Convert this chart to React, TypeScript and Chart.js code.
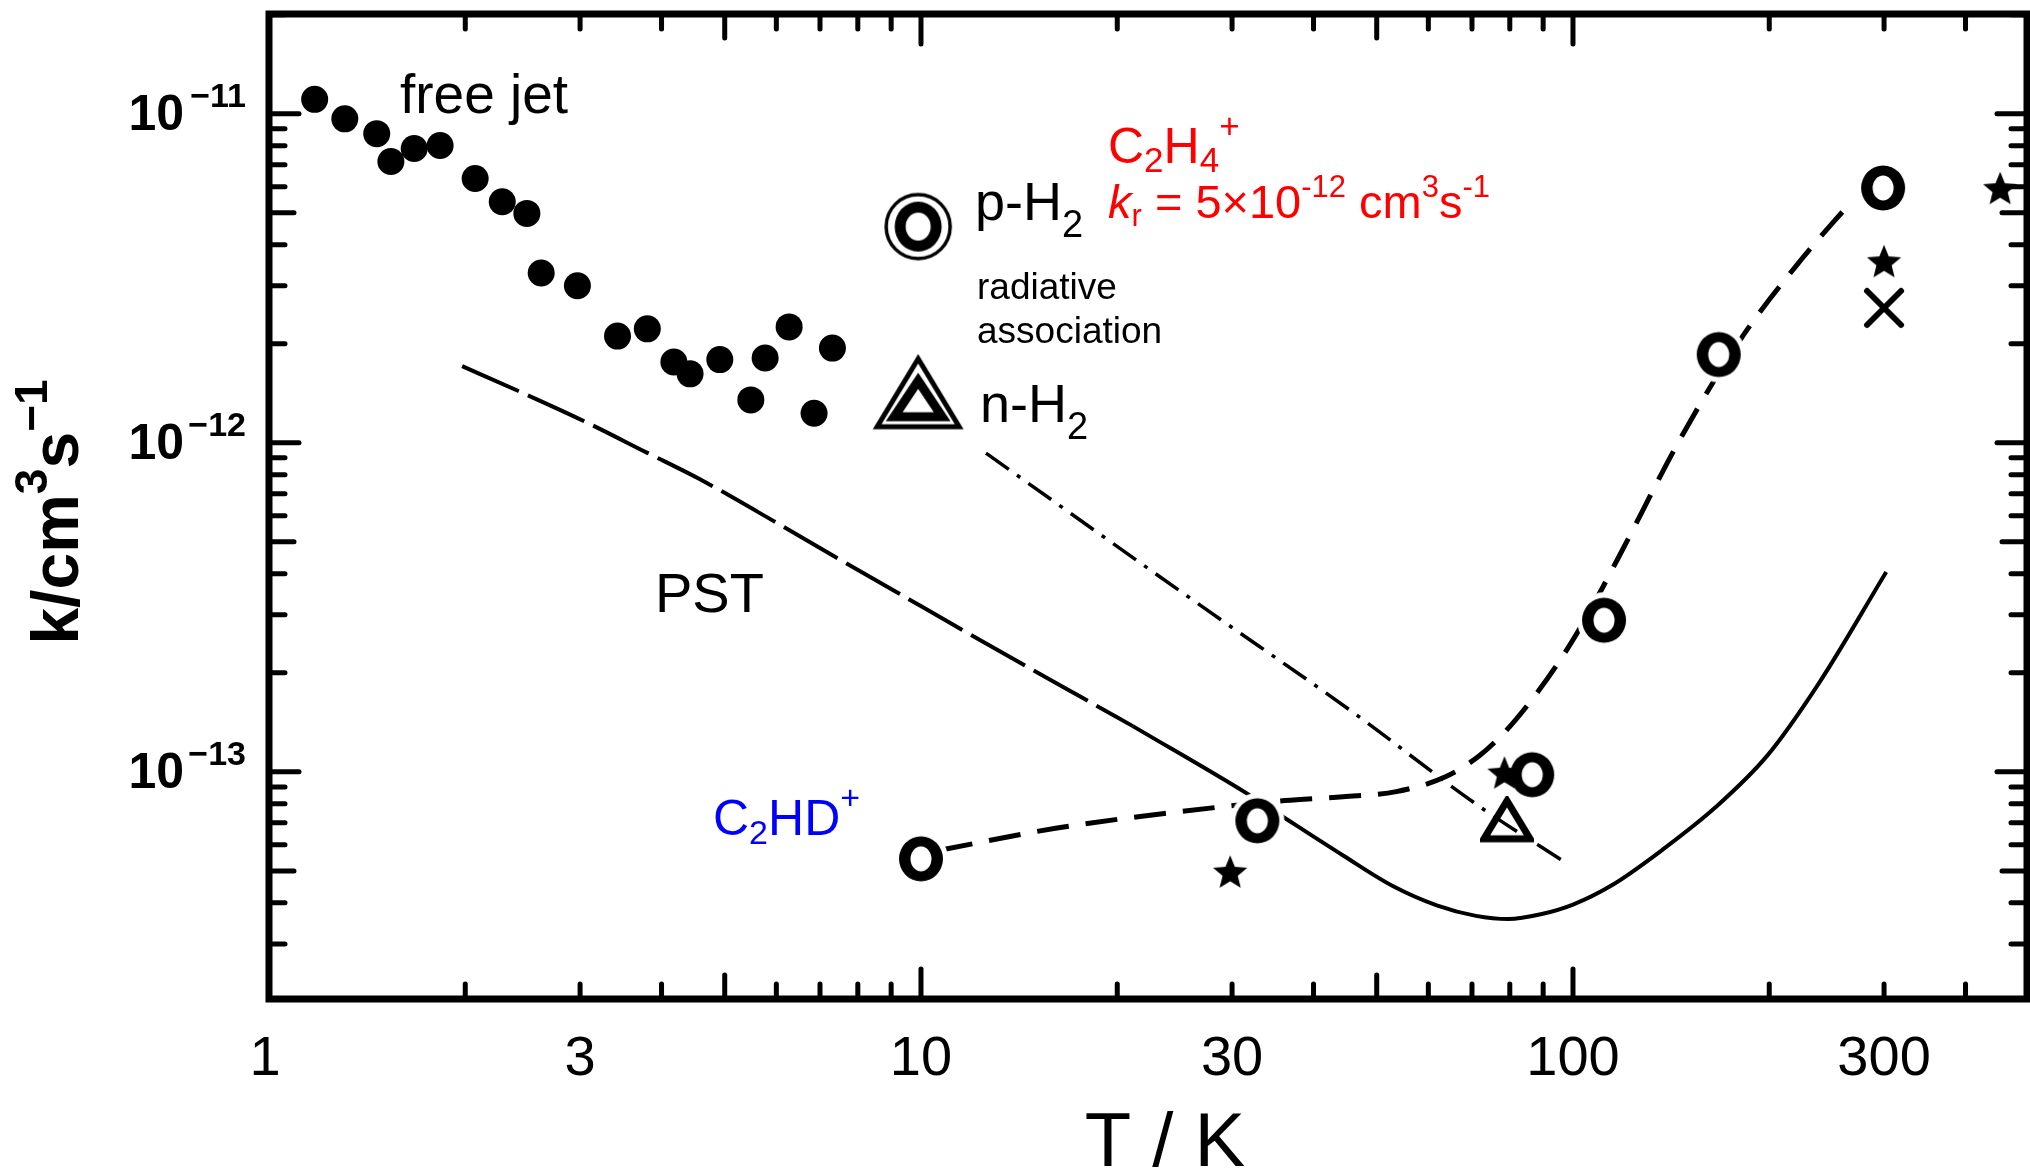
import React, { useEffect, useRef } from 'react';
import { Chart, registerables } from 'chart.js';

Chart.register(...registerables);

// ---------------- data ----------------
// free jet measurements (filled circles)
const freeJetT = [1.175, 1.307, 1.463, 1.538, 1.670, 1.830, 2.071, 2.279, 2.486, 2.615, 2.972, 3.424, 3.804, 4.178, 4.424, 4.914, 5.483, 5.767, 6.277, 6.855, 7.314];
const freeJetK = [1.106e-11, 9.65e-12, 8.70e-12, 7.16e-12, 7.84e-12, 8.01e-12, 6.36e-12, 5.40e-12, 4.98e-12, 3.28e-12, 3.0e-12, 2.11e-12, 2.22e-12, 1.76e-12, 1.62e-12, 1.79e-12, 1.35e-12, 1.81e-12, 2.25e-12, 1.23e-12, 1.94e-12];

// C2HD+ measurements (open bold circles, p-H2)
const openT = [10, 32.8, 86.6, 111.6, 167.3, 299];
const openK = [5.44e-14, 7.10e-14, 9.80e-14, 2.89e-13, 1.855e-12, 5.95e-12];

// stars
const starT = [29.8, 78.5, 300, 452];
const starK = [4.97e-14, 9.94e-14, 3.56e-12, 5.94e-12];

// cross
const crossT = [300];
const crossK = [2.57e-12];

// n-H2 triangle
const triT = [79.2];
const triK = [7.15e-14];

// PST curve, long dashed part
const pstT = [1.978, 2.408, 3.027, 3.804, 4.567, 6.010, 7.552, 9.624, 11.61, 14.59, 17.52, 21.13];
const pstK = [1.710e-12, 1.439e-12, 1.169e-12, 9.32e-13, 7.77e-13, 5.71e-13, 4.39e-13, 3.33e-13, 2.69e-13, 2.08e-13, 1.696e-13, 1.377e-13];

// solid curve
const solidT = [21.13, 31.6, 35.6, 44.4, 53.0, 61.8, 70.98, 79.57, 89.22, 100.0, 114.7, 137.7, 165.4, 198.6, 238.4, 302.3];
const solidK = [1.377e-13, 8.60e-14, 7.38e-14, 5.57e-14, 4.49e-14, 3.93e-14, 3.65e-14, 3.57e-14, 3.69e-14, 3.95e-14, 4.52e-14, 5.83e-14, 7.80e-14, 1.12e-13, 1.861e-13, 4.05e-13];

// dash-dot curve (radiative association, n-H2)
const dashDotT = [12.58, 26.8, 45.5, 72.0, 98.6];
const dashDotK = [9.30e-13, 3.21e-13, 1.54e-13, 7.83e-14, 5.22e-14];

// dashed curve through C2HD+ points
const fitT = [10.73, 16.17, 23.62, 36.15, 44.4, 53.6, 63.74, 72.0, 78.98, 86.56, 94.89, 104.1, 117.7, 145.8, 180.6, 223.8, 268.9];
const fitK = [5.79e-14, 6.75e-14, 7.47e-14, 8.18e-14, 8.40e-14, 8.71e-14, 9.66e-14, 1.123e-13, 1.335e-13, 1.661e-13, 2.14e-13, 2.88e-13, 4.52e-13, 1.021e-12, 2.06e-12, 3.60e-12, 5.48e-12];

// key symbols (p-H2 double circle, n-H2 double triangle)
const keyT = [9.9, 9.9];
const keyK = [4.54e-12, 1.42e-12];

// axes
const xMin = 1;
const xMax = 497;
const yMin = 2.04e-14;
const yMax = 2.01e-11;
const xTickValues = [1, 3, 10, 30, 100, 300];
const xTickLabels = ['1', '3', '10', '30', '100', '300'];
const yTickValues = [1e-11, 1e-12, 1e-13];
const yTickExponents = ['\u221211', '\u221212', '\u221213'];

// ---------------- helpers ----------------
const FONT = '"Liberation Sans", Arial, Helvetica, sans-serif';

type Seg = { t: string; size: number; dy?: number; weight?: string; style?: string };

function fontOf(s: Seg) {
  return `${s.style || 'normal'} ${s.weight || 'normal'} ${s.size}px ${FONT}`;
}

function richWidth(ctx: CanvasRenderingContext2D, segs: Seg[]) {
  let w = 0;
  for (const s of segs) {
    ctx.font = fontOf(s);
    w += ctx.measureText(s.t).width;
  }
  return w;
}

function drawRich(ctx: CanvasRenderingContext2D, x: number, y: number, segs: Seg[], color: string, align: 'left' | 'center' | 'right' = 'left') {
  const w = richWidth(ctx, segs);
  let cx = align === 'left' ? x : align === 'right' ? x - w : x - w / 2;
  ctx.fillStyle = color;
  ctx.textAlign = 'left';
  ctx.textBaseline = 'alphabetic';
  for (const s of segs) {
    ctx.font = fontOf(s);
    ctx.fillText(s.t, cx, y + (s.dy || 0));
    cx += ctx.measureText(s.t).width;
  }
}

function makeCanvas(w: number, h: number) {
  const c = document.createElement('canvas');
  c.width = w;
  c.height = h;
  return c;
}

function makeBoldO() {
  const c = makeCanvas(62, 64);
  const g = c.getContext('2d')!;
  g.fillStyle = '#fff';
  g.beginPath();
  g.ellipse(31, 32, 27, 28, 0, 0, Math.PI * 2);
  g.fill();
  g.fillStyle = '#000';
  g.beginPath();
  g.ellipse(31, 32, 22, 22.5, 0, 0, Math.PI * 2);
  g.ellipse(31, 32, 10.5, 12.5, 0, 0, Math.PI * 2);
  g.fill('evenodd');
  return c;
}

function makeStar() {
  const c = makeCanvas(42, 42);
  const g = c.getContext('2d')!;
  g.fillStyle = '#000';
  g.beginPath();
  for (let i = 0; i < 10; i++) {
    const r = i % 2 === 0 ? 18 : 8;
    const a = -Math.PI / 2 + (i * Math.PI) / 5;
    const px = 21 + r * Math.cos(a);
    const py = 22.5 + r * Math.sin(a);
    if (i === 0) g.moveTo(px, py);
    else g.lineTo(px, py);
  }
  g.closePath();
  g.fill();
  return c;
}

function makeCross() {
  const c = makeCanvas(46, 46);
  const g = c.getContext('2d')!;
  g.strokeStyle = '#000';
  g.lineWidth = 6;
  g.lineCap = 'round';
  g.beginPath();
  g.moveTo(6, 6);
  g.lineTo(40, 40);
  g.moveTo(40, 6);
  g.lineTo(6, 40);
  g.stroke();
  return c;
}

function makeTriangle() {
  const c = makeCanvas(54, 48);
  const g = c.getContext('2d')!;
  g.strokeStyle = '#000';
  g.lineWidth = 7;
  g.lineJoin = 'miter';
  g.beginPath();
  g.moveTo(27, 5);
  g.lineTo(50, 43);
  g.lineTo(4, 43);
  g.closePath();
  g.stroke();
  return c;
}

function makeDoubleCircle() {
  const c = makeCanvas(76, 76);
  const g = c.getContext('2d')!;
  g.strokeStyle = '#000';
  g.lineWidth = 3.5;
  g.beginPath();
  g.arc(38, 38, 32, 0, Math.PI * 2);
  g.stroke();
  g.fillStyle = '#000';
  g.beginPath();
  g.ellipse(38, 38, 23.5, 25, 0, 0, Math.PI * 2);
  g.ellipse(38, 38, 12.5, 14, 0, 0, Math.PI * 2);
  g.fill('evenodd');
  return c;
}

function makeDoubleTriangle() {
  const c = makeCanvas(92, 78);
  const g = c.getContext('2d')!;
  g.strokeStyle = '#000';
  g.lineJoin = 'miter';
  g.lineWidth = 5;
  g.beginPath();
  g.moveTo(46, 5);
  g.lineTo(87, 73);
  g.lineTo(5, 73);
  g.closePath();
  g.stroke();
  g.lineWidth = 9;
  g.beginPath();
  g.moveTo(46, 27);
  g.lineTo(70, 63);
  g.lineTo(22, 63);
  g.closePath();
  g.stroke();
  return c;
}

const pts = (xs: number[], ys: number[]) => xs.map((x, i) => ({ x, y: ys[i] }));

const framePlugin = {
  id: 'frameAndText',
  beforeDraw(chart: any) {
    const { ctx, width, height } = chart;
    ctx.save();
    ctx.fillStyle = '#fff';
    ctx.fillRect(0, 0, width, height);
    ctx.restore();
  },
  beforeDatasetsDraw(chart: any) {
    const { ctx, chartArea: a, scales } = chart;
    const xs = scales.x;
    const ys = scales.y;
    ctx.save();
    ctx.strokeStyle = '#000';
    ctx.lineCap = 'round';
    ctx.lineWidth = 5;
    // x ticks (bottom and top, inward)
    for (let d = 1; d <= 100; d *= 10) {
      for (let m = 1; m <= 9; m++) {
        const v = d * m;
        if (v <= xMin || v >= xMax) continue;
        const px = xs.getPixelForValue(v);
        const len = m === 1 ? 30 : m === 5 ? 24 : 15;
        ctx.beginPath();
        ctx.moveTo(px, a.bottom);
        ctx.lineTo(px, a.bottom - len);
        ctx.moveTo(px, a.top);
        ctx.lineTo(px, a.top + len);
        ctx.stroke();
      }
    }
    // y ticks (left and right, inward)
    for (let e = -14; e <= -11; e++) {
      for (let m = 1; m <= 9; m++) {
        const v = m * Math.pow(10, e);
        if (v <= yMin || v >= yMax) continue;
        const py = ys.getPixelForValue(v);
        const len = m === 1 ? 30 : m === 5 ? 25 : 16;
        ctx.beginPath();
        ctx.moveTo(a.left, py);
        ctx.lineTo(a.left + len, py);
        ctx.moveTo(a.right, py);
        ctx.lineTo(a.right - len, py);
        ctx.stroke();
      }
    }
    // frame
    ctx.lineWidth = 7;
    ctx.lineJoin = 'miter';
    ctx.lineCap = 'butt';
    ctx.strokeRect(a.left, a.top, a.right - a.left, a.bottom - a.top);
    ctx.restore();
  },
  afterDraw(chart: any) {
    const { ctx, scales } = chart;
    const xs = scales.x;
    const ys = scales.y;
    ctx.save();
    // x tick labels
    xTickValues.forEach((v, i) => {
      const px = xs.getPixelForValue(v);
      drawRich(ctx, px - (v === 1 ? 4 : 0), 1075, [{ t: xTickLabels[i], size: 56 }], '#000', 'center');
    });
    // y tick labels
    yTickValues.forEach((v, i) => {
      const py = ys.getPixelForValue(v);
      drawRich(ctx, 246, py - 7, [{ t: yTickExponents[i], size: 34, weight: 'bold' }], '#000', 'right');
      drawRich(ctx, 184, py + 16, [{ t: '10', size: 50, weight: 'bold' }], '#000', 'right');
    });
    // axis titles
    drawRich(ctx, 1165, 1166, [{ t: 'T / K', size: 76 }], '#000', 'center');
    ctx.save();
    ctx.translate(78, 512);
    ctx.rotate(-Math.PI / 2);
    drawRich(ctx, 0, 0, [
      { t: 'k/cm', size: 66, weight: 'bold' },
      { t: '3', size: 46, weight: 'bold', dy: -31 },
      { t: 's', size: 66, weight: 'bold' },
      { t: '\u22121', size: 46, weight: 'bold', dy: -31 },
    ], '#000', 'center');
    ctx.restore();

    // annotations
    drawRich(ctx, 400, 113, [{ t: 'free jet', size: 55 }], '#000');
    drawRich(ctx, 1108, 163, [
      { t: 'C', size: 50 },
      { t: '2', size: 35, dy: 9 },
      { t: 'H', size: 50 },
      { t: '4', size: 35, dy: 9 },
      { t: '+', size: 35, dy: -25 },
    ], '#ff0000');
    drawRich(ctx, 1108, 218, [
      { t: 'k', size: 47, style: 'italic' },
      { t: 'r', size: 31, dy: 8 },
      { t: ' = 5\u00d710', size: 47 },
      { t: '-12', size: 31, dy: -21 },
      { t: ' cm', size: 47 },
      { t: '3', size: 31, dy: -21 },
      { t: 's', size: 47 },
      { t: '-1', size: 31, dy: -21 },
    ], '#ff0000');
    drawRich(ctx, 975, 220, [
      { t: 'p-H', size: 54 },
      { t: '2', size: 38, dy: 17 },
    ], '#000');
    drawRich(ctx, 977, 299, [{ t: 'radiative', size: 37 }], '#000');
    drawRich(ctx, 977, 343, [{ t: 'association', size: 37 }], '#000');
    drawRich(ctx, 980, 422, [
      { t: 'n-H', size: 54 },
      { t: '2', size: 38, dy: 17 },
    ], '#000');
    drawRich(ctx, 655, 612, [{ t: 'PST', size: 56 }], '#000');
    drawRich(ctx, 713, 835, [
      { t: 'C', size: 50 },
      { t: '2', size: 34, dy: 9 },
      { t: 'HD', size: 50 },
      { t: '+', size: 34, dy: -26 },
    ], '#0000ff');
    ctx.restore();
  },
};

export default function App() {
  const ref = useRef<HTMLCanvasElement | null>(null);

  useEffect(() => {
    document.body.style.margin = '0';
    const canvas = ref.current;
    if (!canvas) return;

    const oImg = makeBoldO();
    const starImg = makeStar();
    const crossImg = makeCross();
    const triImg = makeTriangle();
    const keyImgs = [makeDoubleCircle(), makeDoubleTriangle()];

    const lineBase = {
      showLine: true,
      pointRadius: 0,
      pointHoverRadius: 0,
      borderColor: '#000',
      backgroundColor: '#000',
      fill: false,
      cubicInterpolationMode: 'monotone' as const,
    };

    const chart = new Chart(canvas, {
      type: 'scatter',
      data: {
        datasets: [
          { label: 'stars', data: pts(starT, starK), pointStyle: starImg as any, pointRadius: 16, order: 0, clip: false as any },
          { label: 'cross', data: pts(crossT, crossK), pointStyle: crossImg as any, pointRadius: 18, order: 1, clip: false as any },
          { label: 'C2HD+ p-H2', data: pts(openT, openK), pointStyle: oImg as any, pointRadius: 21, order: 2, clip: false as any },
          { label: 'n-H2', data: pts(triT, triK), pointStyle: triImg as any, pointRadius: 20, order: 3, clip: false as any },
          { label: 'free jet', data: pts(freeJetT, freeJetK), pointStyle: 'circle', pointRadius: 13.5, pointBackgroundColor: '#000', pointBorderWidth: 0, order: 4, clip: false as any },
          { label: 'key', data: pts(keyT, keyK), pointStyle: keyImgs as any, pointRadius: 30, order: 5, clip: false as any },
          { ...lineBase, label: 'C2HD+ fit', data: pts(fitT, fitK), borderWidth: 5, borderDash: [32, 17], order: 6 },
          { ...lineBase, label: 'radiative association', data: pts(dashDotT, dashDotK), borderWidth: 3.5, borderDash: [28, 10, 4, 10], order: 7 },
          { ...lineBase, label: 'PST', data: pts(pstT, pstK), borderWidth: 4, borderDash: [62, 10], order: 8 },
          { ...lineBase, label: 'solid', data: pts(solidT, solidK), borderWidth: 4, order: 9 },
        ] as any,
      },
      options: {
        animation: false,
        responsive: false,
        events: [],
        layout: { autoPadding: false, padding: { left: 269, right: 3, top: 14, bottom: 171 } },
        scales: {
          x: { type: 'logarithmic', min: xMin, max: xMax, display: false },
          y: { type: 'logarithmic', min: yMin, max: yMax, display: false },
        },
        plugins: { legend: { display: false }, tooltip: { enabled: false } },
      } as any,
      plugins: [framePlugin as any],
    });

    return () => chart.destroy();
  }, []);

  return (
    <div style={{ width: 2030, height: 1170, position: 'relative' }}>
      <canvas ref={ref} width={2030} height={1170} style={{ width: 2030, height: 1170, display: 'block' }} />
    </div>
  );
}
